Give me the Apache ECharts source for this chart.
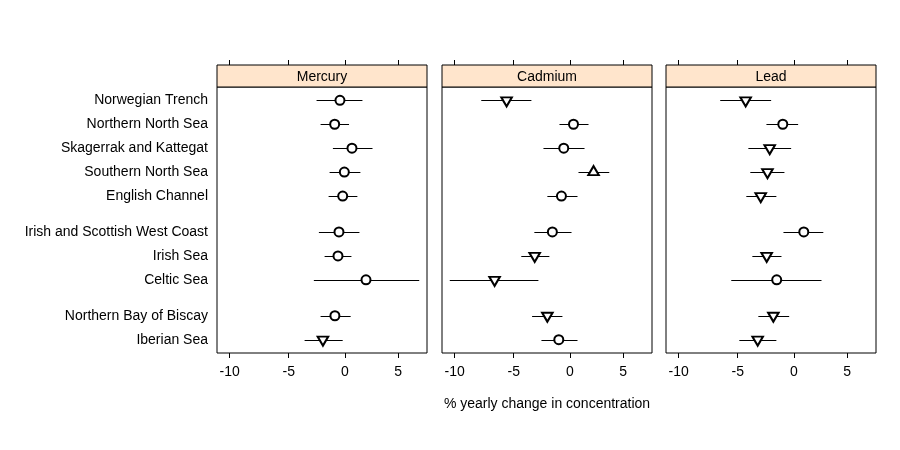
<!DOCTYPE html>
<html>
<head>
<meta charset="utf-8">
<script src="https://cdn.jsdelivr.net/npm/echarts@6/dist/echarts.min.js"></script>
<style>html,body{margin:0;padding:0;background:#fff}#chart{width:900px;height:450px}</style>
</head>
<body>
<div id="chart"></div>
<script>
// ---- data ----
const regionGroups = [
  ["Norwegian Trench", "Northern North Sea", "Skagerrak and Kattegat", "Southern North Sea", "English Channel"],
  ["Irish and Scottish West Coast", "Irish Sea", "Celtic Sea"],
  ["Northern Bay of Biscay", "Iberian Sea"]
];
const metals = ["Mercury", "Cadmium", "Lead"];

const mercuryEst   = [-0.44, -0.92, 0.66, -0.04, -0.19, -0.53, -0.62, 1.96, -0.90, -1.98];
const mercuryLower = [-2.55, -2.19, -1.08, -1.38, -1.47, -2.34, -1.83, -2.79, -2.19, -3.61];
const mercuryUpper = [1.63, 0.39, 2.57, 1.44, 1.16, 1.35, 0.61, 7.05, 0.54, -0.19];
const mercuryTrend = ["none", "none", "none", "none", "none", "none", "none", "none", "none", "down"];

const cadmiumEst   = [-5.62, 0.34, -0.55, 2.20, -0.76, -1.58, -3.16, -6.65, -2.03, -1.00];
const cadmiumLower = [-7.78, -0.94, -2.38, 0.80, -2.03, -3.19, -4.34, -10.40, -3.39, -2.56];
const cadmiumUpper = [-3.45, 1.73, 1.36, 3.68, 0.71, 0.16, -1.85, -2.83, -0.67, 0.71];
const cadmiumTrend = ["down", "none", "none", "up", "none", "none", "down", "down", "down", "none"];

const leadEst   = [-4.31, -1.00, -2.18, -2.38, -2.98, 0.92, -2.45, -1.55, -1.85, -3.25];
const leadLower = [-6.51, -2.47, -4.07, -3.90, -4.25, -0.94, -3.72, -5.56, -3.19, -4.86];
const leadUpper = [-2.05, 0.40, -0.24, -0.85, -1.58, 2.74, -1.12, 2.57, -0.42, -1.58];
const leadTrend = ["down", "none", "down", "down", "down", "none", "down", "none", "down", "down"];

const xTickLabels = [-10, -5, 0, 5];
const xTitle = "% yearly change in concentration";

// ---- build ----
const toAxis = p => Math.log(1 + p / 100);
const fromAxis = v => (Math.exp(v) - 1) * 100;

// row positions: one unit per row, half-unit extra gap between groups
const regions = [];
const rowPos = [];
let cur = 0;
regionGroups.forEach((g, gi) => {
  if (gi > 0) cur += 0.5;
  g.forEach(r => { regions.push(r); rowPos.push(cur); cur += 1; });
});
const yPad = 0.556;
const yMin = -yPad, yMax = rowPos[rowPos.length - 1] + yPad;

const panels = [
  {est: mercuryEst, lo: mercuryLower, hi: mercuryUpper, trend: mercuryTrend},
  {est: cadmiumEst, lo: cadmiumLower, hi: cadmiumUpper, trend: cadmiumTrend},
  {est: leadEst, lo: leadLower, hi: leadUpper, trend: leadTrend}
];

// x range: lattice-style 4% padding on the transformed scale
let dMin = Infinity, dMax = -Infinity;
panels.forEach(p => { p.lo.forEach(v => dMin = Math.min(dMin, toAxis(v))); p.hi.forEach(v => dMax = Math.max(dMax, toAxis(v))); });
const padX = (dMax - dMin) * 0.04;
const xMin = dMin - padX, xMax = dMax + padX;

const FONT = "'Liberation Sans', Arial, sans-serif";
const panelLefts = [217, 442, 666];
const panelW = 210;
const stripTop = 65, stripH = 22, panelTop = 87, panelH = 266;

const grids = [], xAxes = [], yAxes = [], series = [], graphics = [];
const tickVals = xTickLabels.map(toAxis);

panelLefts.forEach((L, i) => {
  grids.push({left: L, top: panelTop, width: panelW, height: panelH, show: true,
    borderColor: '#000', borderWidth: 1, backgroundColor: '#fff', containLabel: false});
});
panelLefts.forEach((L, i) => {
  grids.push({left: L, top: stripTop, width: panelW, height: stripH, show: true,
    borderColor: '#000', borderWidth: 1, backgroundColor: '#FFE5CC', containLabel: false});
});

panelLefts.forEach((L, i) => {
  xAxes.push({
    gridIndex: i, type: 'value', position: 'bottom', min: xMin, max: xMax,
    axisLine: {show: false, onZero: false}, splitLine: {show: false},
    axisTick: {show: true, inside: false, customValues: tickVals, length: 5, lineStyle: {color: '#000', width: 1}},
    axisLabel: {show: true, customValues: tickVals, margin: 12, fontSize: 14, fontFamily: FONT, color: '#000',
      formatter: v => String(Math.round(fromAxis(v)))},
    name: i === 1 ? xTitle : '', nameLocation: 'middle', nameGap: 44,
    nameTextStyle: {fontSize: 14, fontFamily: FONT, color: '#000'}
  });
  yAxes.push({
    gridIndex: i, type: 'value', inverse: true, min: yMin, max: yMax,
    axisLine: {show: false, onZero: false}, splitLine: {show: false},
    axisTick: {show: false},
    axisLabel: {show: i === 0, customValues: rowPos, margin: 9, fontSize: 14, fontFamily: FONT, color: '#000',
      formatter: v => { const k = rowPos.findIndex(p => Math.abs(p - v) < 1e-6); return k >= 0 ? regions[k] : ''; }}
  });
});
panelLefts.forEach((L, i) => {
  xAxes.push({
    gridIndex: 3 + i, type: 'value', position: 'top', min: xMin, max: xMax,
    axisLine: {show: false, onZero: false}, splitLine: {show: false},
    axisTick: {show: true, inside: false, customValues: tickVals, length: 5, lineStyle: {color: '#000', width: 1}},
    axisLabel: {show: false}
  });
  yAxes.push({gridIndex: 3 + i, type: 'value', show: false, min: 0, max: 1,
    axisLine: {onZero: false}});
  graphics.push({type: 'text', x: L + panelW / 2, y: stripTop + stripH / 2 + 1, z: 100,
    style: {text: metals[i], align: 'center', verticalAlign: 'middle', fontSize: 14, fontFamily: FONT, fill: '#000'}});
});

panels.forEach((p, i) => {
  series.push({
    type: 'custom', xAxisIndex: i, yAxisIndex: i, z: 2,
    encode: {x: [0, 1], y: 2},
    data: p.lo.map((lo, k) => [toAxis(lo), toAxis(p.hi[k]), rowPos[k]]),
    renderItem: (params, api) => {
      const a = api.coord([api.value(0), api.value(2)]);
      const b = api.coord([api.value(1), api.value(2)]);
      const y = Math.round(a[1]) + 0.5;
      return {type: 'line', shape: {x1: a[0], y1: y, x2: b[0], y2: y}, style: {stroke: '#000', lineWidth: 1}};
    }
  });
  series.push({
    type: 'scatter', xAxisIndex: i, yAxisIndex: i, z: 3,
    itemStyle: {color: '#fff', borderColor: '#000', borderWidth: 2, opacity: 1},
    data: p.est.map((e, k) => {
      const t = p.trend[k];
      const item = {value: [toAxis(e), rowPos[k]]};
      if (t === 'none') { item.symbol = 'circle'; item.symbolSize = 9; }
      else if (t === 'down') { item.symbol = 'triangle'; item.symbolRotate = 180; item.symbolSize = [10.5, 9]; item.symbolOffset = [0, 1.5]; }
      else { item.symbol = 'triangle'; item.symbolSize = [10.5, 9]; item.symbolOffset = [0, -1.5]; }
      return item;
    })
  });
});

const chart = echarts.init(document.getElementById('chart'), null, {renderer: 'canvas'});
chart.setOption({
  backgroundColor: '#fff',
  animation: false,
  grid: grids, xAxis: xAxes, yAxis: yAxes, series: series, graphic: graphics
});
</script>
</body>
</html>
